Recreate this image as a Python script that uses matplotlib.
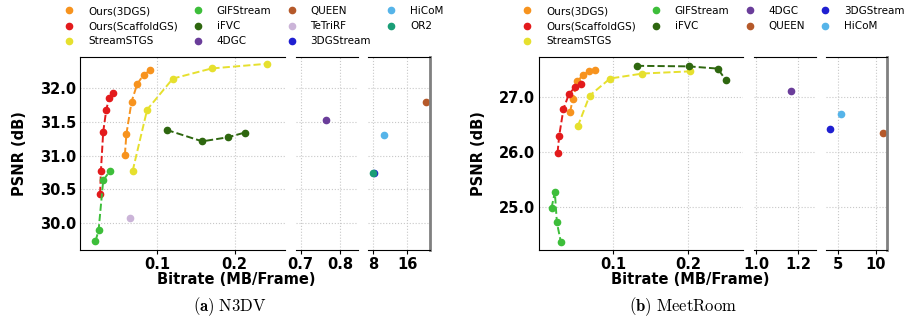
import matplotlib
matplotlib.use('Agg')
import matplotlib.pyplot as plt
from matplotlib.lines import Line2D

plt.rcParams['mathtext.fontset'] = 'cm'

# methods / colours
methods = ['Ours(3DGS)', 'Ours(ScaffoldGS)', 'StreamSTGS', 'GIFStream', 'iFVC',
           '4DGC', 'QUEEN', 'TeTriRF', '3DGStream', 'HiCoM', 'OR2']
colors = ['#F7931E', '#E31A1C', '#E6E02E', '#3DBE3A', '#2E670F',
          '#6A3D9A', '#B5592A', '#CBB4D8', '#1F1FD1', '#56B4E9', '#1A9E77']

# ---- N3DV (bitrate MB/frame, PSNR dB)
n3dv_ours3dgs_rate = [0.058, 0.060, 0.0667, 0.074, 0.0824, 0.0906]
n3dv_ours3dgs_psnr = [31.01, 31.32, 31.80, 32.06, 32.20, 32.26]
n3dv_scaffold_rate = [0.026, 0.027, 0.030, 0.034, 0.0376, 0.0427]
n3dv_scaffold_psnr = [30.43, 30.77, 31.35, 31.68, 31.85, 31.93]
n3dv_streamstgs_rate = [0.068, 0.0868, 0.120, 0.170, 0.242]
n3dv_streamstgs_psnr = [30.77, 31.68, 32.14, 32.29, 32.36]
n3dv_gifstream_rate = [0.020, 0.024, 0.030, 0.0385]
n3dv_gifstream_psnr = [29.73, 29.89, 30.63, 30.77]
n3dv_ifvc_rate = [0.112, 0.158, 0.191, 0.213]
n3dv_ifvc_psnr = [31.38, 31.21, 31.27, 31.34]
n3dv_4dgc_rate = [0.765]
n3dv_4dgc_psnr = [31.53]
n3dv_queen_rate = [20.3]
n3dv_queen_psnr = [31.79]
n3dv_tetrirf_rate = [0.065]
n3dv_tetrirf_psnr = [30.07]
n3dv_3dgstream_rate = [8.1]
n3dv_3dgstream_psnr = [30.74]
n3dv_hicom_rate = [10.5]
n3dv_hicom_psnr = [31.31]
n3dv_or2_rate = [7.9]
n3dv_or2_psnr = [30.74]

# ---- MeetRoom
meet_ours3dgs_rate = [0.0418, 0.0453, 0.0515, 0.0595, 0.0671, 0.0751]
meet_ours3dgs_psnr = [26.72, 26.96, 27.28, 27.40, 27.46, 27.49]
meet_scaffold_rate = [0.0249, 0.0271, 0.0329, 0.040, 0.048, 0.0568]
meet_scaffold_psnr = [25.98, 26.29, 26.78, 27.04, 27.17, 27.23]
meet_streamstgs_rate = [0.052, 0.068, 0.0955, 0.139, 0.203]
meet_streamstgs_psnr = [26.46, 27.02, 27.33, 27.42, 27.46]
meet_gifstream_rate = [0.0168, 0.0213, 0.024, 0.0293]
meet_gifstream_psnr = [24.98, 25.27, 24.72, 24.37]
meet_ifvc_rate = [0.1315, 0.201, 0.240, 0.251]
meet_ifvc_psnr = [27.56, 27.55, 27.51, 27.30]
meet_4dgc_rate = [1.166]
meet_4dgc_psnr = [27.11]
meet_queen_rate = [10.9]
meet_queen_psnr = [26.34]
meet_3dgstream_rate = [4.0]
meet_3dgstream_psnr = [26.42]
meet_hicom_rate = [5.43]
meet_hicom_psnr = [26.69]

n3dv = {
    'Ours(3DGS)': (n3dv_ours3dgs_rate, n3dv_ours3dgs_psnr),
    'Ours(ScaffoldGS)': (n3dv_scaffold_rate, n3dv_scaffold_psnr),
    'StreamSTGS': (n3dv_streamstgs_rate, n3dv_streamstgs_psnr),
    'GIFStream': (n3dv_gifstream_rate, n3dv_gifstream_psnr),
    'iFVC': (n3dv_ifvc_rate, n3dv_ifvc_psnr),
    '4DGC': (n3dv_4dgc_rate, n3dv_4dgc_psnr),
    'QUEEN': (n3dv_queen_rate, n3dv_queen_psnr),
    'TeTriRF': (n3dv_tetrirf_rate, n3dv_tetrirf_psnr),
    '3DGStream': (n3dv_3dgstream_rate, n3dv_3dgstream_psnr),
    'HiCoM': (n3dv_hicom_rate, n3dv_hicom_psnr),
    'OR2': (n3dv_or2_rate, n3dv_or2_psnr),
}
meet = {
    'Ours(3DGS)': (meet_ours3dgs_rate, meet_ours3dgs_psnr),
    'Ours(ScaffoldGS)': (meet_scaffold_rate, meet_scaffold_psnr),
    'StreamSTGS': (meet_streamstgs_rate, meet_streamstgs_psnr),
    'GIFStream': (meet_gifstream_rate, meet_gifstream_psnr),
    'iFVC': (meet_ifvc_rate, meet_ifvc_psnr),
    '4DGC': (meet_4dgc_rate, meet_4dgc_psnr),
    'QUEEN': (meet_queen_rate, meet_queen_psnr),
    '3DGStream': (meet_3dgstream_rate, meet_3dgstream_psnr),
    'HiCoM': (meet_hicom_rate, meet_hicom_psnr),
}

TICK_FS = 10.5


def draw_panel(fig, boxes, data, xlims, xticks, xticklabels, ylim, yticks, yticklabels):
    axs = []
    for i, (l, b, w, h) in enumerate(boxes):
        ax = fig.add_axes([l, b, w, h], sharey=axs[0] if axs else None)
        axs.append(ax)
        for name, (x, y) in data.items():
            c = colors[methods.index(name)]
            ls = '--' if len(x) > 1 else 'none'
            ax.plot(x, y, linestyle=ls, marker='o', color=c, markersize=4.5, linewidth=1.4)
        ax.set_xlim(*xlims[i])
        ax.set_xticks(xticks[i], xticklabels[i], fontsize=TICK_FS, fontweight='bold')
        ax.grid(True, linestyle=':', color='#c8c8c8', linewidth=0.8)
        ax.tick_params(axis='x', length=3, pad=2)
        if i == 0:
            ax.set_ylim(*ylim)
            ax.set_yticks(yticks, yticklabels, fontsize=TICK_FS, fontweight='bold')
            ax.tick_params(axis='y', length=0, pad=3)
            ax.spines['right'].set_visible(False)
            ax.set_ylabel('PSNR (dB)', fontsize=10.5, fontweight='bold', labelpad=9)
        else:
            ax.tick_params(axis='y', left=False, labelleft=False)
            ax.spines['left'].set_visible(False)
            if i == 1:
                ax.spines['right'].set_visible(False)
            else:
                ax.spines['right'].set_color('#808080')
                ax.spines['right'].set_linewidth(2)
    return axs


fig = plt.figure(figsize=(9.12, 3.2), dpi=100)
W, H = 912.0, 320.0
b = 1 - 250 / H
h = (250 - 57) / H

left_boxes = [(80 / W, b, 205 / W, h), (296 / W, b, 62 / W, h), (368 / W, b, 62 / W, h)]
right_boxes = [(539 / W, b, 204 / W, h), (754 / W, b, 62 / W, h), (826 / W, b, 61 / W, h)]

draw_panel(fig, left_boxes, n3dv,
           [(0.0, 0.265), (0.688, 0.845), (6.75, 21.3)],
           [[0.1, 0.2], [0.7, 0.8], [8, 16]],
           [['0.1', '0.2'], ['0.7', '0.8'], ['8', '16']],
           (29.6, 32.46), [30.0, 30.5, 31.0, 31.5, 32.0],
           ['30.0', '30.5', '31.0', '31.5', '32.0'])

draw_panel(fig, right_boxes, meet,
           [(0.0, 0.274), (0.99, 1.286), (3.47, 11.47)],
           [[0.1, 0.2], [1.0, 1.2], [5, 10]],
           [['0.1', '0.2'], ['1.0', '1.2'], ['5', '10']],
           (24.22, 27.72), [25.0, 26.0, 27.0],
           ['25.0', '26.0', '27.0'])

# legends (marker only)
def handles_for(names):
    return [Line2D([], [], linestyle='none', marker='o', markersize=4.5,
                   color=colors[methods.index(n)]) for n in names]

leg_kw = dict(ncol=4, frameon=False, fontsize=7.5, loc='upper left', borderpad=0,
              borderaxespad=0, handlelength=1.0, handletextpad=1.3,
              columnspacing=1.45, labelspacing=0.5)
fig.legend(handles_for(list(n3dv)), list(n3dv), bbox_to_anchor=(64 / W, 0.981), **leg_kw)
fig.legend(handles_for(list(meet)), list(meet), bbox_to_anchor=(522 / W, 0.981), **leg_kw)

# x labels and captions
fig.text(236 / W, 1 - 279 / H, 'Bitrate (MB/Frame)', ha='center', va='center',
         fontsize=10.5, fontweight='bold')
fig.text(690 / W, 1 - 279 / H, 'Bitrate (MB/Frame)', ha='center', va='center',
         fontsize=10.5, fontweight='bold')
fig.text(230 / W, 1 - 307 / H, r'$\mathbf{(a)}\ \mathrm{N3DV}$', ha='center', va='center', fontsize=12)
fig.text(683 / W, 1 - 307 / H, r'$\mathbf{(b)}\ \mathrm{MeetRoom}$', ha='center', va='center', fontsize=12)

fig.savefig('out.png', dpi=100)
